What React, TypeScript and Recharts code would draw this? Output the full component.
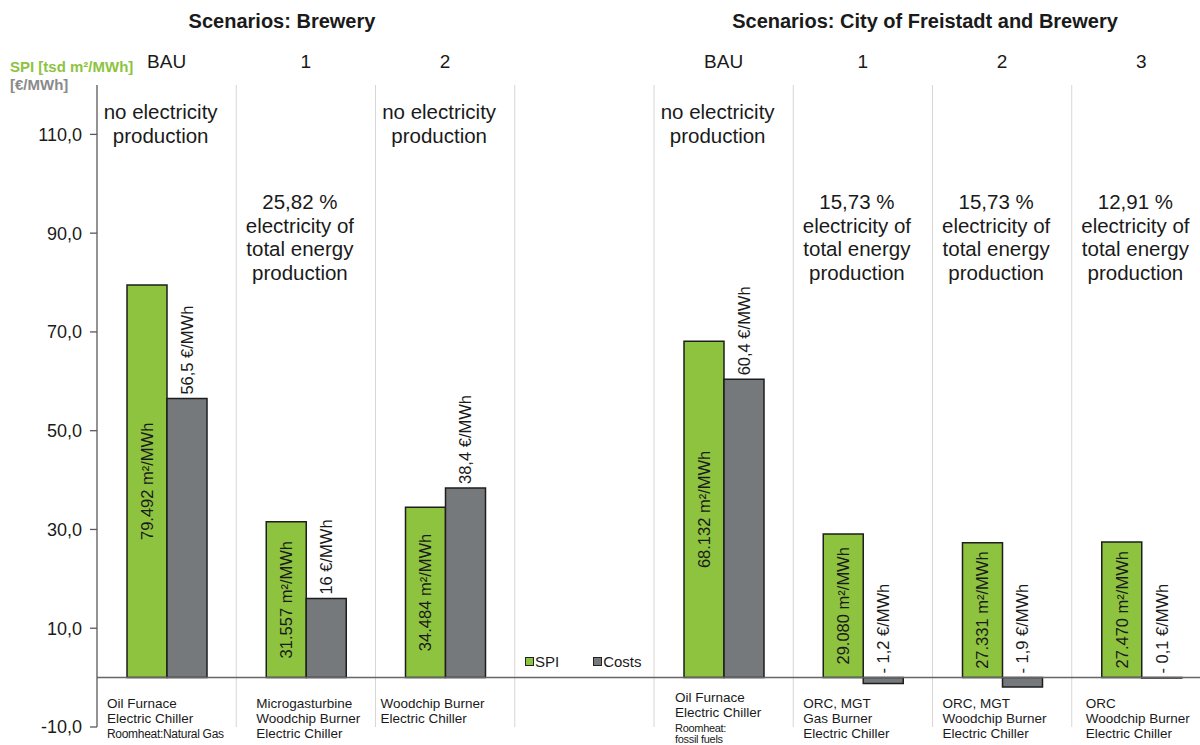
import React from 'react';
import {
  ComposedChart,
  Bar,
  XAxis,
  YAxis,
  CartesianGrid,
  ReferenceLine,
  LabelList,
  Legend,
} from 'recharts';

// ---- data ----
const scenarioKeys = [
  'brewery-bau',
  'brewery-1',
  'brewery-2',
  'spacer',
  'city-bau',
  'city-1',
  'city-2',
  'city-3',
];
const scenarioLabels = ['BAU', '1', '2', '', 'BAU', '1', '2', '3'];
const seriesNames = ['SPI', 'Costs'];
// SPI in thousand m²/MWh
const spiValues: (number | null)[] = [79.492, 31.557, 34.484, null, 68.132, 29.08, 27.331, 27.47];
// Costs in €/MWh
const costValues: (number | null)[] = [56.5, 16, 38.4, null, 60.4, -1.2, -1.9, -0.1];
// share of electricity in total energy production (%), 0 = none, null = no column
const electricityShare: (number | null)[] = [0, 25.82, 0, null, 0, 15.73, 15.73, 12.91];
const technologies: string[][] = [
  ['Oil Furnace', 'Electric Chiller'],
  ['Microgasturbine', 'Woodchip Burner', 'Electric Chiller'],
  ['Woodchip Burner', 'Electric Chiller'],
  [],
  ['Oil Furnace', 'Electric Chiller'],
  ['ORC, MGT', 'Gas Burner', 'Electric Chiller'],
  ['ORC, MGT', 'Woodchip Burner', 'Electric Chiller'],
  ['ORC', 'Woodchip Burner', 'Electric Chiller'],
];
const roomheatNotes: string[][] = [['Roomheat:Natural Gas'], [], [], [], ['Roomheat:', 'fossil fuels'], [], [], []];
const yTicks = [-10, 10, 30, 50, 70, 90, 110];
const groupTitles = ['Scenarios: Brewery', 'Scenarios: City of Freistadt and Brewery'];

const data = scenarioKeys.map((key, i) => ({
  key,
  spi: spiValues[i],
  costs: costValues[i],
}));

// ---- layout / style ----
const FONT = '"Liberation Sans", Arial, Helvetica, sans-serif';
const CHART_W = 1215;
const CHART_H = 745;
const MARGIN = { top: 0, right: 4, bottom: 0, left: 0 };
const Y_AXIS_W = 97;
const TOP_AXIS_H = 85;
const BOTTOM_AXIS_H = 18;
const PLOT_W = CHART_W - MARGIN.right - MARGIN.left - Y_AXIS_W;
const PLOT_BOTTOM = CHART_H - BOTTOM_AXIS_H;
const COL_W = PLOT_W / scenarioKeys.length;
const GREEN = '#8dc33f';
const GRAY = '#76797c';
const TEXT = '#1a1a1a';
const descriptorInset = [10, 20, 5, 0, 21, 10, 10, 14];

const fmtComma = (v: number, digits?: number) =>
  (digits === undefined ? String(v) : v.toFixed(digits)).replace('.', ',');

const annotationLines = (share: number | null): string[] => {
  if (share === null) return [];
  if (share === 0) return ['no electricity', 'production'];
  return [`${fmtComma(share, 2)} %`, 'electricity of', 'total energy', 'production'];
};

const TopTick = (props: any) => {
  const { x, index } = props;
  const share = electricityShare[index];
  const lines = annotationLines(share);
  const firstBaseline = share === 0 ? 119 : 209;
  const cx = x - 6;
  return (
    <g fontFamily={FONT} fill={TEXT}>
      <text x={x} y={68} textAnchor="middle" fontSize={19}>
        {scenarioLabels[index]}
      </text>
      {lines.map((line, i) => (
        <text key={i} x={cx} y={firstBaseline + i * 23.5} textAnchor="middle" fontSize={20.5}>
          {line}
        </text>
      ))}
    </g>
  );
};

const BottomTick = (props: any) => {
  const { x, index } = props;
  const main = technologies[index] || [];
  const notes = roomheatNotes[index] || [];
  const left = x - COL_W / 2 + descriptorInset[index];
  const start = PLOT_BOTTOM - 19 - (notes.length > 1 ? 6 : 0);
  return (
    <g fontFamily={FONT} fill={TEXT}>
      {main.map((line, i) => (
        <text key={'m' + i} x={left} y={start + i * 15} fontSize={13.5}>
          {line}
        </text>
      ))}
      {notes.map((line, i) => (
        <text
          key={'n' + i}
          x={left}
          y={start + main.length * 15 - 0.5 + i * 11}
          fontSize={notes.length > 1 ? 11 : 12}
          letterSpacing={-0.3}
        >
          {line}
        </text>
      ))}
    </g>
  );
};

const SpiLabel = (props: any) => {
  const { x, y, width, height, value } = props;
  if (value === null || value === undefined) return null;
  const cx = x + width / 2;
  const cy = y + height / 2;
  return (
    <text
      x={cx}
      y={cy}
      transform={`rotate(-90 ${cx} ${cy})`}
      textAnchor="middle"
      dominantBaseline="central"
      fontFamily={FONT}
      fontSize={16.5}
      fill={TEXT}
    >
      {`${value.toFixed(3)} m²/MWh`}
    </text>
  );
};

const CostLabel = (props: any) => {
  const { x, y, width, height, value } = props;
  if (value === null || value === undefined) return null;
  const cx = x + width / 2;
  const top = Math.min(y, y + height);
  const sy = top - 4;
  const text = value < 0 ? `- ${fmtComma(Math.abs(value))} €/MWh` : `${fmtComma(value)} €/MWh`;
  return (
    <text
      x={cx}
      y={sy}
      transform={`rotate(-90 ${cx} ${sy})`}
      textAnchor="start"
      dominantBaseline="central"
      fontFamily={FONT}
      fontSize={16.5}
      fill={TEXT}
    >
      {text}
    </text>
  );
};

const LegendContent = (props: any) => {
  const items = [...(props.payload || [])].sort(
    (a: any, b: any) => seriesNames.indexOf(a.value) - seriesNames.indexOf(b.value)
  );
  return (
    <div style={{ display: 'flex', fontFamily: FONT, fontSize: 15, color: TEXT }}>
      {items.map((entry: any, i: number) => (
        <div key={i} style={{ display: 'flex', alignItems: 'center', marginRight: 34 }}>
          <span
            style={{
              display: 'inline-block',
              width: 7,
              height: 7,
              background: entry.color,
              border: '1px solid #222',
              marginRight: 1,
            }}
          />
          <span>{entry.value}</span>
        </div>
      ))}
    </div>
  );
};

export default function App() {
  const titleStyle: React.CSSProperties = {
    position: 'absolute',
    top: 10,
    fontFamily: FONT,
    fontWeight: 'bold',
    fontSize: 20,
    color: TEXT,
    whiteSpace: 'nowrap',
    transform: 'translateX(-50%)',
  };
  return (
    <div
      style={{
        position: 'absolute',
        left: 0,
        top: 0,
        width: 1200,
        height: CHART_H,
        overflow: 'hidden',
        background: '#fff',
      }}
    >
      <div style={{ ...titleStyle, left: 282 }}>{groupTitles[0]}</div>
      <div style={{ ...titleStyle, left: 925 }}>{groupTitles[1]}</div>
      <div
        style={{
          position: 'absolute',
          left: 10,
          top: 58,
          fontFamily: FONT,
          fontWeight: 'bold',
          fontSize: 15,
          lineHeight: '18px',
          whiteSpace: 'nowrap',
        }}
      >
        <div style={{ color: GREEN }}>SPI [tsd m²/MWh]</div>
        <div style={{ color: '#8a8a8a' }}>[€/MWh]</div>
      </div>
      <ComposedChart
        width={CHART_W}
        height={CHART_H}
        data={data}
        margin={MARGIN}
        barGap={0}
        style={{ position: 'absolute', left: 0, top: 0 }}
      >
        <CartesianGrid
          xAxisId="bottom"
          horizontal={false}
          stroke="#d6d6d6"
          strokeWidth={1}
          verticalCoordinatesGenerator={({ offset }: any) =>
            Array.from({ length: scenarioKeys.length - 1 }, (_, i) => offset.left + ((i + 1) * offset.width) / scenarioKeys.length)
          }
        />
        <XAxis
          xAxisId="top"
          orientation="top"
          dataKey="key"
          height={TOP_AXIS_H}
          axisLine={false}
          tickLine={false}
          interval={0}
          tick={(p: any) => <TopTick {...p} />}
        />
        <XAxis
          xAxisId="bottom"
          orientation="bottom"
          dataKey="key"
          height={BOTTOM_AXIS_H}
          axisLine={false}
          tickLine={false}
          interval={0}
          tick={(p: any) => <BottomTick {...p} />}
        />
        <YAxis
          width={Y_AXIS_W}
          domain={[-10, 120]}
          ticks={yTicks}
          allowDataOverflow
          axisLine={{ stroke: '#595959', strokeWidth: 1.3 }}
          tickLine={{ stroke: '#595959', strokeWidth: 1.3 }}
          tickSize={7}
          tickMargin={8}
          tickFormatter={(v: number) => fmtComma(v, 1)}
          tick={{ fontFamily: FONT, fontSize: 18, fill: TEXT }}
        />
        <Legend
          layout="horizontal"
          verticalAlign="middle"
          align="center"
          content={<LegendContent />}
          wrapperStyle={{ left: 525, top: 653, width: 'auto', height: 20 }}
        />
        <Bar
          xAxisId="bottom"
          dataKey="spi"
          name="SPI"
          fill={GREEN}
          stroke="#1e1e1e"
          strokeWidth={1.5}
          barSize={40}
          isAnimationActive={false}
        >
          <LabelList dataKey="spi" content={<SpiLabel />} />
        </Bar>
        <Bar
          xAxisId="bottom"
          dataKey="costs"
          name="Costs"
          fill={GRAY}
          stroke="#1e1e1e"
          strokeWidth={1.5}
          barSize={40}
          isAnimationActive={false}
        >
          <LabelList dataKey="costs" content={<CostLabel />} />
        </Bar>
        <ReferenceLine xAxisId="bottom" y={0} stroke="#666" strokeWidth={1.5} />
      </ComposedChart>
    </div>
  );
}
